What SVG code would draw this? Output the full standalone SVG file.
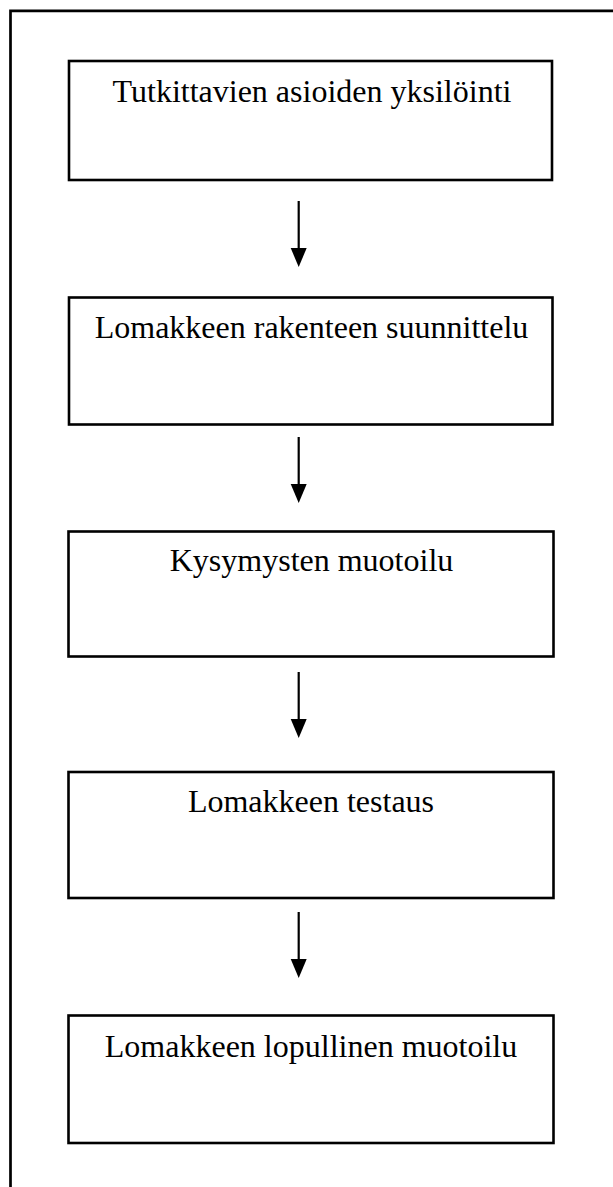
<svg xmlns="http://www.w3.org/2000/svg" width="613" height="1187" viewBox="0 0 613 1187">
  <defs>
    <style>
      .box { fill: #ffffff; stroke: #000000; stroke-width: 2.6; }
      .label { font-family: "Liberation Serif", "Times New Roman", serif; font-size: 32px; fill: #000000; text-anchor: middle; }
      .conn { stroke: #000000; stroke-width: 2.2; fill: none; }
      .frame { stroke: #000000; stroke-width: 2.7; fill: none; }
    </style>
  </defs>
  <rect width="613" height="1187" fill="#ffffff"/>
  <path class="frame" d="M 613 10.8 H 10.5 V 1187"/>

  <g id="connectors">
    <line class="conn" x1="298.7" y1="201" x2="298.7" y2="250"/>
    <path d="M290.7,248 L306.7,248 L298.7,267 Z" fill="#000"/>
    <line class="conn" x1="298.7" y1="437" x2="298.7" y2="486"/>
    <path d="M290.7,484 L306.7,484 L298.7,503 Z" fill="#000"/>
    <line class="conn" x1="298.7" y1="672" x2="298.7" y2="721"/>
    <path d="M290.7,719 L306.7,719 L298.7,738 Z" fill="#000"/>
    <line class="conn" x1="298.7" y1="912" x2="298.7" y2="961"/>
    <path d="M290.7,959 L306.7,959 L298.7,978 Z" fill="#000"/>
  </g>

  <g id="node1">
    <rect class="box" x="69" y="61" width="483" height="119"/>
    <text class="label" x="312" y="101.5">Tutkittavien asioiden yksilöinti</text>
  </g>
  <g id="node2">
    <rect class="box" x="69" y="297.5" width="483.5" height="127"/>
    <text class="label" x="311.5" y="338">Lomakkeen rakenteen suunnittelu</text>
  </g>
  <g id="node3">
    <rect class="box" x="68.5" y="531.5" width="485" height="125"/>
    <text class="label" x="311.5" y="570.5">Kysymysten muotoilu</text>
  </g>
  <g id="node4">
    <rect class="box" x="68.5" y="772" width="485" height="126"/>
    <text class="label" x="311" y="811.5">Lomakkeen testaus</text>
  </g>
  <g id="node5">
    <rect class="box" x="68.5" y="1015.5" width="485" height="127.5"/>
    <text class="label" x="311" y="1056.5">Lomakkeen lopullinen muotoilu</text>
  </g>
</svg>
